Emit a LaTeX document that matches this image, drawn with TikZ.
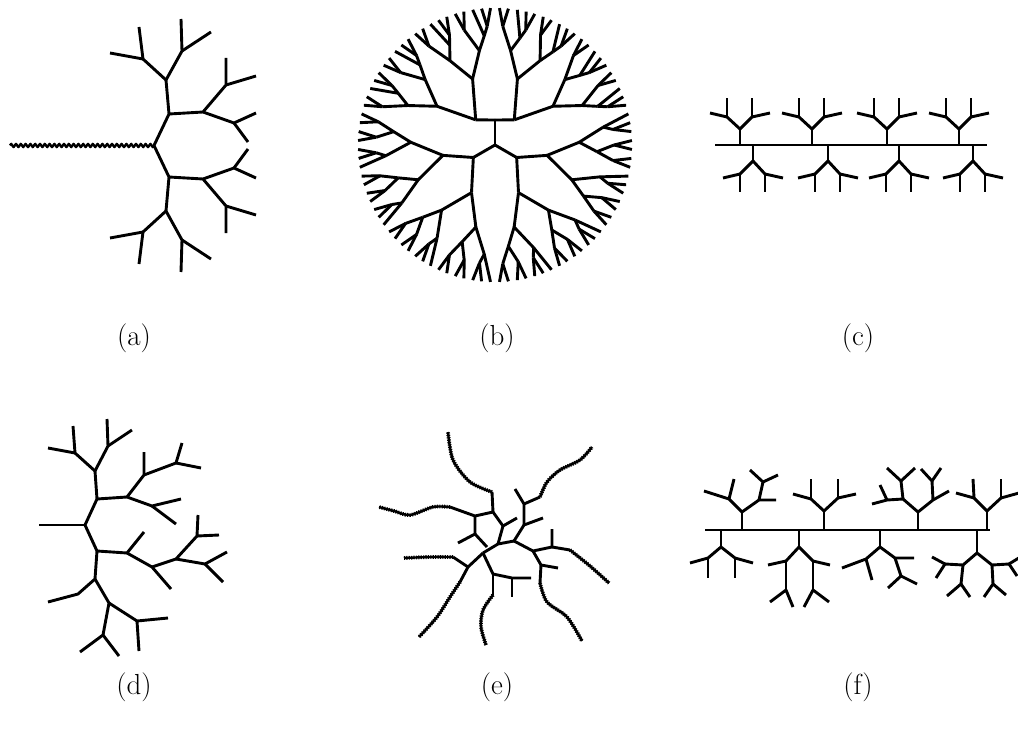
\documentclass[tikz,border=0pt]{standalone}
\usepackage{fontspec}
\usetikzlibrary{decorations.pathmorphing}
% recursive radial tree for panel (b): parent angle, parent radius, start angle, leaves
\newcommand\rtb[4]{%
 \begingroup
 \pgfmathsetmacro\rtbA{#3+#4*3.75/2}%
 \ifnum#4=1 \def\rtbR{137}\else\pgfmathsetmacro\rtbR{137-18*(#4-1)^0.6}\fi
 \draw (#1:#2) -- (\rtbA:\rtbR);
 \ifnum#4>1
  \pgfmathtruncatemacro\rtbNa{(#4+1)/2}%
  \pgfmathtruncatemacro\rtbNb{#4-\rtbNa}%
  \pgfmathsetmacro\rtbS{#3+\rtbNa*3.75}%
  \edef\rtbNext{\noexpand\rtb{\rtbA}{\rtbR}{#3}{\rtbNa}\noexpand\rtb{\rtbA}{\rtbR}{\rtbS}{\rtbNb}}%
  \rtbNext
 \fi
 \endgroup}
\newcommand\treeCU[1]{%
 \begin{scope}[shift={(#1,0)}]
 \draw (0,145) -- (0,129);
 \draw (-30,113) -- (-13,117) -- (0,129) -- (12,117) -- (30,113);
 \draw (-13,117) -- (-13,98);
 \draw (12,117) -- (12,98);
 \end{scope}}
\newcommand\treeCL[1]{%
 \begin{scope}[shift={(#1,0)}]
 \draw (0,145) -- (0,161);
 \draw (-30,178) -- (-13,174) -- (0,161) -- (12,174) -- (30,178);
 \draw (-13,174) -- (-13,192);
 \draw (12,174) -- (12,192);
 \end{scope}}
\newcommand\halfA{%
 \draw (154,145.5) -- (169,114) -- (166,80) -- (182,51) -- (181,19);
 \draw (182,51) -- (211,32);
 \draw (166,80) -- (143,59) -- (139,27);
 \draw (143,59) -- (110,53);
 \draw (169,114) -- (203,112) -- (226,85) -- (226,58);
 \draw (226,85) -- (256,76);
 \draw (203,112) -- (234,123) -- (256,113);
 \draw (234,123) -- (248,142);}
% beaded curve: bumpy underlay plus plain core
\newcommand\wavyplot[1]{%
 \draw[line width=3.8pt,dash pattern=on 1.1pt off 1.3pt] plot[smooth] coordinates {#1};
 \draw[line width=2.4pt] plot[smooth] coordinates {#1};}
\begin{document}
\begin{tikzpicture}[x=1pt,y=-1pt,line width=2.9pt,line join=round,
  zz/.style={decorate,decoration={zigzag,segment length=4.8pt,amplitude=1.6pt}},
  lab/.style={font=\fontsize{29}{34}\selectfont,inner sep=0pt}]
\useasboundingbox (0,0) rectangle (1018,733);

% ---------- (a)
\halfA
\begin{scope}[shift={(0,291)},yscale=-1]
 \halfA
\end{scope}
\draw[zz,line width=2.4pt] (10,145.5) -- (154,145.5);

% ---------- (b)
\begin{scope}[shift={(495,145)},yscale=-1]
 \draw (0:0) -- (90:25);
 \draw (0:0) -- (210:25);
 \draw (0:0) -- (330:25);
 \rtb{90}{25}{90}{20}
 \rtb{90}{25}{15}{20}
 \rtb{210}{25}{165}{14}
 \rtb{210}{25}{217.5}{14}
 \rtb{330}{25}{270}{14}
 \rtb{330}{25}{322.5}{14}
\end{scope}

% ---------- (c)
\draw (715,145) -- (987,145);
\treeCU{740}\treeCU{812}\treeCU{887}\treeCU{959}
\treeCL{753}\treeCL{828}\treeCL{899}\treeCL{973}

% ---------- (d)
\draw (39,525) -- (85,525);
\draw (97,499) -- (85,525) -- (97,551);
\draw (97,499) -- (95,471);
\draw (97,499) -- (127,497);
\draw (95,471) -- (108,446) -- (107,419);
\draw (108,446) -- (132,430);
\draw (95,471) -- (75,453) -- (73,426);
\draw (75,453) -- (48,448);
\draw (127,497) -- (144,475) -- (144,452);
\draw (144,475) -- (176,463) -- (182,443);
\draw (176,463) -- (201,468);
\draw (127,497) -- (152,506) -- (181,499);
\draw (152,506) -- (176,524);
\draw (97,551) -- (127,553) -- (144,532);
\draw (127,553) -- (152,567) -- (171,589);
\draw (152,567) -- (176,559) -- (197,536) -- (198,515);
\draw (197,536) -- (219,535);
\draw (176,559) -- (205,564) -- (227,552);
\draw (205,564) -- (223,582);
\draw (97,551) -- (95,579) -- (78,594) -- (48,602);
\draw (95,579) -- (109,603) -- (103,635) -- (80,652);
\draw (103,635) -- (119,656);
\draw (109,603) -- (137,621) -- (168,618);
\draw (137,621) -- (139,651);

% ---------- (e)
\coordinate (eX) at (483,553);
\coordinate (eY) at (498,544);
\coordinate (eZ) at (514,541);
\draw (eX) -- (eY) -- (eZ);
\draw (eY) -- (503,526) -- (517,518);
\draw (503,526) -- (493,512) -- (475,516) -- (450,507);
\draw (493,512) -- (492,492);
\wavyplot{(492,492) (470,482) (453,460) (448,432)}
\draw (475,516) -- (475,534) -- (458,543);
\draw (475,534) -- (487,547);
\wavyplot{(450,507) (433,507) (410,515) (394,511) (379,507)}
\draw (eZ) -- (524,525) -- (543,518);
\draw (524,525) -- (524,504) -- (515,489);
\draw (524,504) -- (540,497);
\wavyplot{(540,497) (547,482) (560,470) (580,460) (592,447)}
\draw (eZ) -- (533,551) -- (552,547) -- (552,529);
\draw (552,547) -- (570,550);
\wavyplot{(570,550) (590,566) (609,583)}
\draw (533,551) -- (541,565) -- (558,568);
\draw (541,565) -- (540,583);
\wavyplot{(540,583) (547,602) (567,617) (582,641)}
\draw (eX) -- (468,567) -- (453,557);
\wavyplot{(453,557) (430,557) (404,558)}
\draw (468,567) -- (460,582);
\wavyplot{(460,582) (450,597) (437,617) (419,637)}
\draw (eX) -- (493,574) -- (512,578) -- (531,578);
\draw (512,578) -- (512,597);
\draw (493,574) -- (493,595);
\wavyplot{(493,595) (483,610) (481,627) (486,645)}

% ---------- (f)
\draw (705,530) -- (990,530);
% upper
\draw (742,530) -- (742,512);
\draw (704,491) -- (729,499) -- (742,512) -- (759,500) -- (776,500);
\draw (729,499) -- (734,479);
\draw (759,500) -- (763,482) -- (750,470);
\draw (763,482) -- (778,475);
\draw (824,530) -- (824,511);
\draw (793,494) -- (811,499) -- (824,511) -- (838,498) -- (856,494);
\draw (811,499) -- (811,479);
\draw (838,498) -- (838,479);
\draw (918,530) -- (918,512);
\draw (872,504) -- (887,500) -- (903,499) -- (918,512) -- (933,500) -- (949,491);
\draw (887,500) -- (880,485);
\draw (903,499) -- (901,481) -- (887,468);
\draw (901,481) -- (915,468);
\draw (933,500) -- (932,481) -- (921,469);
\draw (932,481) -- (941,468);
\draw (987,530) -- (987,511);
\draw (956,493) -- (974,498) -- (987,511) -- (1001,498) -- (1019,493);
\draw (974,498) -- (973,479);
\draw (1001,498) -- (1001,479);
% lower
\draw (721,530) -- (721,547);
\draw (690,563) -- (708,558) -- (721,547) -- (735,558) -- (753,563);
\draw (708,558) -- (708,578);
\draw (735,558) -- (735,578);
\draw (799,530) -- (799,547);
\draw (768,565) -- (786,561) -- (799,547) -- (813,561) -- (830,565);
\draw (786,561) -- (786,590);
\draw (770,602) -- (786,590) -- (793,607);
\draw (813,561) -- (813,590);
\draw (804,607) -- (813,590) -- (829,602);
\draw (880,530) -- (880,547);
\draw (842,568) -- (866,559) -- (880,547) -- (895,558) -- (914,558);
\draw (866,559) -- (872,580);
\draw (895,558) -- (901,576) -- (888,588);
\draw (901,576) -- (917,584);
\draw (977,530) -- (977,553);
\draw (945,564) -- (963,565) -- (977,553) -- (992,565) -- (1009,564);
\draw (932,557) -- (945,564) -- (936,578);
\draw (963,565) -- (961,584) -- (947,596);
\draw (961,584) -- (970,597);
\draw (992,565) -- (993,584) -- (984,597);
\draw (993,584) -- (1006,595);
\draw (1009,564) -- (1017,576);
\draw (1009,564) -- (1022,556);

% ---------- labels
\node[lab] (la) at (134,338) {(a)};
\node[lab] (lb) at (497,338) {(b)};
\node[lab] (lc) at (858,338) {(c)};
\node[lab] (ld) at (134,687) {(d)};
\node[lab] (le) at (497,687) {(e)};
\node[lab] (lf) at (858,687) {(f)};
\end{tikzpicture}
\end{document}
